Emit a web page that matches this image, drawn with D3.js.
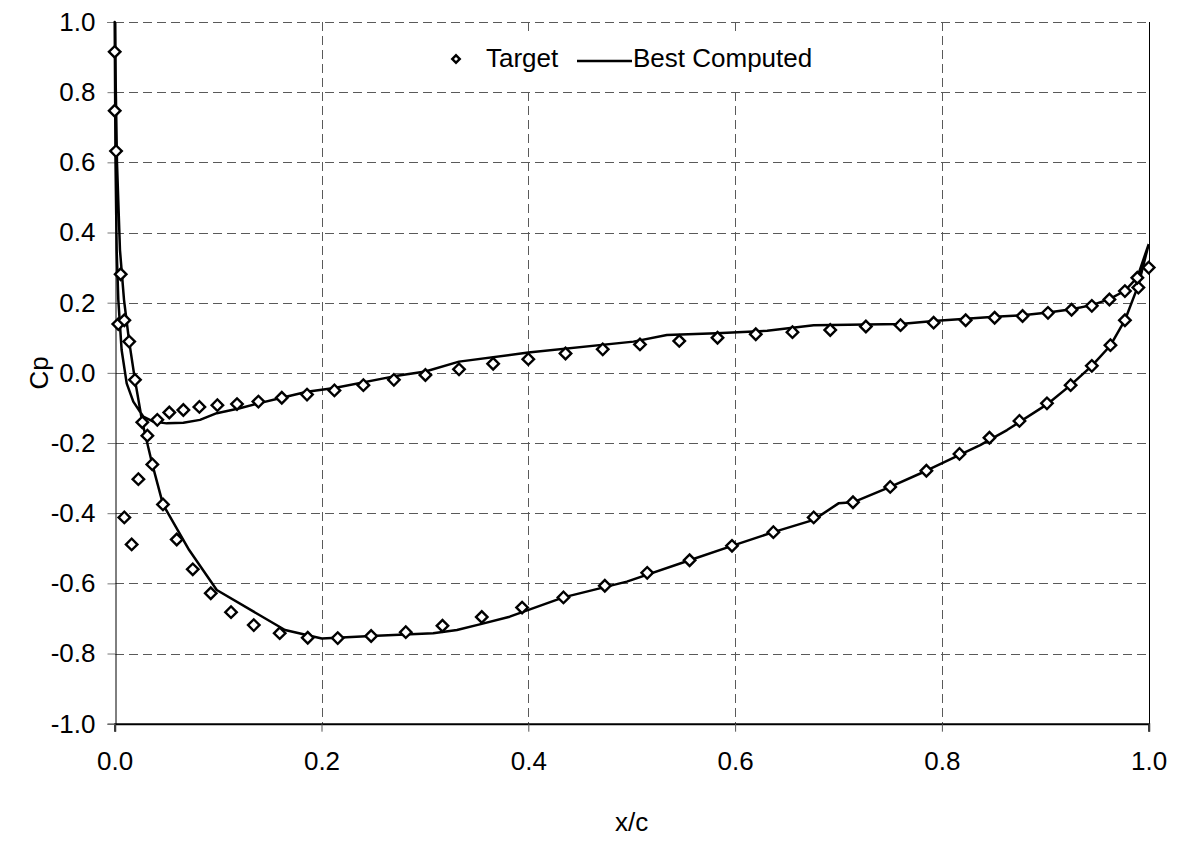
<!DOCTYPE html>
<html>
<head>
<meta charset="utf-8">
<script src="https://cdn.jsdelivr.net/npm/d3@7"></script>
<style>
  html, body { margin: 0; padding: 0; background: #fff; }
  svg { display: block; }
  text { font-family: "Liberation Sans", Arial, sans-serif; fill: #000; }
</style>
</head>
<body>
<svg id="chart" width="1177" height="841"></svg>
<script>
// Pressure coefficient distribution: target points and best computed solution.

// Target (measured) Cp, suction side from trailing edge to leading edge
const targetSuctionX = [1.000, 0.990, 0.977, 0.963, 0.945, 0.9245, 0.9016, 0.875, 0.846, 0.817,
  0.785, 0.750, 0.714, 0.676, 0.637, 0.597, 0.556, 0.515, 0.474, 0.434, 0.394, 0.355, 0.317,
  0.2815, 0.248, 0.2157, 0.1867, 0.1596, 0.1345, 0.1125, 0.0929, 0.0755, 0.060, 0.0467, 0.0364,
  0.0316, 0.0229, 0.0164, 0.0093];
const targetSuctionCp = [0.300, 0.243, 0.150, 0.079, 0.020, -0.035, -0.087, -0.137, -0.185, -0.231,
  -0.279, -0.325, -0.369, -0.412, -0.454, -0.493, -0.534, -0.570, -0.607, -0.640, -0.669, -0.696, -0.721,
  -0.739, -0.750, -0.756, -0.755, -0.742, -0.719, -0.682, -0.628, -0.560, -0.475, -0.375, -0.261,
  -0.179, -0.303, -0.489, -0.412];

// Target Cp, pressure side from leading edge to trailing edge
const targetPressureX = [0.000, 0.000, 0.0013, 0.0058, 0.0035, 0.0093, 0.014, 0.0196, 0.0267, 0.0412,
  0.0528, 0.0664, 0.0819, 0.0993, 0.1183, 0.139, 0.1616, 0.186, 0.2125, 0.2405, 0.270, 0.3005, 0.333,
  0.366, 0.400, 0.436, 0.472, 0.508, 0.546, 0.583, 0.620, 0.6555, 0.692, 0.7265, 0.760, 0.792, 0.823,
  0.851, 0.878, 0.9026, 0.9254, 0.945, 0.962, 0.977, 0.989];
const targetPressureCp = [0.915, 0.747, 0.632, 0.281, 0.139, 0.150, 0.089, -0.020, -0.141, -0.134,
  -0.113, -0.106, -0.097, -0.092, -0.089, -0.082, -0.071, -0.062, -0.050, -0.035, -0.020, -0.006, 0.010,
  0.026, 0.039, 0.055, 0.067, 0.081, 0.091, 0.100, 0.110, 0.116, 0.122, 0.132, 0.136, 0.143, 0.150,
  0.157, 0.162, 0.171, 0.180, 0.191, 0.209, 0.233, 0.271];

// Best computed Cp, traced around the section: trailing edge -> suction side -> leading edge -> pressure side -> trailing edge
const computedX = [1.000, 0.990, 0.977, 0.963, 0.945, 0.9245, 0.9016, 0.863, 0.837, 0.785, 0.750,
  0.714, 0.700, 0.676, 0.637, 0.597, 0.556, 0.4953, 0.434, 0.382, 0.353, 0.331, 0.308, 0.248,
  0.2003, 0.1647, 0.0987, 0.0720, 0.0467, 0.0364, 0.0267, 0.0196, 0.014, 0.0090, 0.0051, 0.0022, 0.000,
  0.0008, 0.0019, 0.0035, 0.0067, 0.0116, 0.0180, 0.0277, 0.0374, 0.0503, 0.0664, 0.0825, 0.0987,
  0.121, 0.139, 0.1616, 0.186, 0.2125, 0.270, 0.3005, 0.333, 0.400, 0.5017, 0.534, 0.582, 0.631,
  0.676, 0.760, 0.792, 0.851, 0.878, 0.9026, 0.9254, 0.945, 0.962, 0.977, 0.989, 1.000];
const computedCp = [0.367, 0.250, 0.150, 0.078, 0.020, -0.035, -0.090, -0.163, -0.206, -0.279, -0.325,
  -0.369, -0.372, -0.419, -0.454, -0.493, -0.534, -0.595, -0.640, -0.695, -0.717, -0.733, -0.742, -0.750,
  -0.757, -0.733, -0.619, -0.505, -0.375, -0.261, -0.141, -0.020, 0.089, 0.208, 0.350, 0.600, 1.000,
  0.600, 0.350, 0.208, 0.065, -0.030, -0.082, -0.125, -0.139, -0.144, -0.142, -0.134, -0.115,
  -0.101, -0.087, -0.071, -0.054, -0.043, -0.010, 0.004, 0.032, 0.058, 0.089, 0.108, 0.113, 0.120,
  0.1355, 0.139, 0.148, 0.160, 0.164, 0.172, 0.181, 0.193, 0.210, 0.234, 0.272, 0.367];

const xTicks = [0.0, 0.2, 0.4, 0.6, 0.8, 1.0];
const yTicks = [-1.0, -0.8, -0.6, -0.4, -0.2, 0.0, 0.2, 0.4, 0.6, 0.8, 1.0];
const legendLabels = ["Target", "Best Computed"];
const xTitle = "x/c";
const yTitle = "Cp";

const target = targetSuctionX.map((x, i) => ({ x, cp: targetSuctionCp[i] }))
  .concat(targetPressureX.map((x, i) => ({ x, cp: targetPressureCp[i] })));
const computed = computedX.map((x, i) => ({ x, cp: computedCp[i] }));

const svg = d3.select("#chart");
const plotLeft = 114.7, plotRight = 1148.7, plotTop = 22, plotBottom = 723.7;
// one decimal, plain hyphen for negatives
const fmt = d => (Math.abs(d) < 1e-9 ? 0 : d).toFixed(1);
const fontSize = 26;

const xScale = d3.scaleLinear().domain([0, 1]).range([plotLeft, plotRight]);
const yScale = d3.scaleLinear().domain([-1, 1]).range([plotBottom, plotTop]);

// Grid: dashed lines at every tick except along the axes
const grid = svg.append("g").attr("stroke", "#5a5a5a").attr("stroke-width", 1)
  .attr("stroke-dasharray", "9,5").attr("fill", "none").attr("shape-rendering", "crispEdges");
grid.selectAll("line.h").data(yTicks.filter(v => v > -1)).join("line")
  .attr("class", "h")
  .attr("x1", plotLeft).attr("x2", plotRight)
  .attr("y1", d => Math.round(yScale(d)) + 0.5).attr("y2", d => Math.round(yScale(d)) + 0.5);
grid.selectAll("line.v").data(xTicks.filter(v => v > 0 && v < 1)).join("line")
  .attr("class", "v")
  .attr("y1", plotTop).attr("y2", plotBottom)
  .attr("x1", d => Math.round(xScale(d)) + 0.5).attr("x2", d => Math.round(xScale(d)) + 0.5);

// Right edge of the plot area
svg.append("line").attr("x1", Math.round(plotRight) + 0.5).attr("x2", Math.round(plotRight) + 0.5)
  .attr("y1", plotTop).attr("y2", plotBottom).attr("stroke", "#000").attr("stroke-width", 1)
  .attr("shape-rendering", "crispEdges");

// Axes
const yAxis = d3.axisLeft(yScale).tickValues(yTicks).tickFormat(fmt).tickSize(8).tickPadding(12);
const gy = svg.append("g").attr("transform", `translate(${Math.round(plotLeft) + 0.5},0)`).call(yAxis);
gy.select(".domain").attr("stroke", "#000").attr("stroke-width", 1);
gy.selectAll(".tick line").attr("stroke", "#777");
gy.selectAll(".tick text").style("font-size", fontSize + "px").attr("font-family", "Liberation Sans, Arial, sans-serif");

const xAxis = d3.axisBottom(xScale).tickValues(xTicks).tickFormat(fmt).tickSize(8).tickPadding(20);
const gx = svg.append("g").attr("transform", `translate(0,${plotBottom})`).call(xAxis);
gx.select(".domain").attr("stroke", "#000").attr("stroke-width", 2);
gx.selectAll(".tick line").attr("stroke", "#555");
gx.selectAll(".tick text").style("font-size", fontSize + "px").attr("font-family", "Liberation Sans, Arial, sans-serif");
gy.raise();

// Axis titles
svg.append("text").attr("x", (plotLeft + plotRight) / 2).attr("y", 831)
  .attr("text-anchor", "middle").style("font-size", fontSize + "px").text(xTitle);
svg.append("text").attr("transform", `translate(48,${(plotTop + plotBottom) / 2}) rotate(-90)`)
  .attr("text-anchor", "middle").style("font-size", fontSize + "px").text(yTitle);

// Computed curve
const line = d3.line().x(d => xScale(d.x)).y(d => yScale(d.cp));
svg.append("path").datum(computed).attr("d", line)
  .attr("fill", "none").attr("stroke", "#000").attr("stroke-width", 2.5)
  .attr("stroke-linejoin", "round");

// Target markers: open diamonds
const diamond = d3.symbol().type(d3.symbolSquare).size(66);
svg.append("g").selectAll("path").data(target).join("path")
  .attr("d", diamond)
  .attr("transform", d => `translate(${xScale(d.x)},${yScale(d.cp)}) rotate(45)`)
  .attr("fill", "#fff").attr("stroke", "#000").attr("stroke-width", 2.4);

// Legend
const lg = svg.append("g");
lg.append("rect").attr("x", 440).attr("y", 32).attr("width", 390).attr("height", 55).attr("fill", "#fff");
lg.append("path").attr("d", d3.symbol().type(d3.symbolSquare).size(28))
  .attr("transform", "translate(456,59) rotate(45)")
  .attr("fill", "#fff").attr("stroke", "#000").attr("stroke-width", 2.4);
lg.append("text").attr("x", 486).attr("y", 67).style("font-size", fontSize + "px").text(legendLabels[0]);
lg.append("line").attr("x1", 577).attr("x2", 632).attr("y1", 61).attr("y2", 61)
  .attr("stroke", "#000").attr("stroke-width", 2.5);
lg.append("text").attr("x", 633).attr("y", 67).style("font-size", fontSize + "px").text(legendLabels[1]);
</script>
</body>
</html>
